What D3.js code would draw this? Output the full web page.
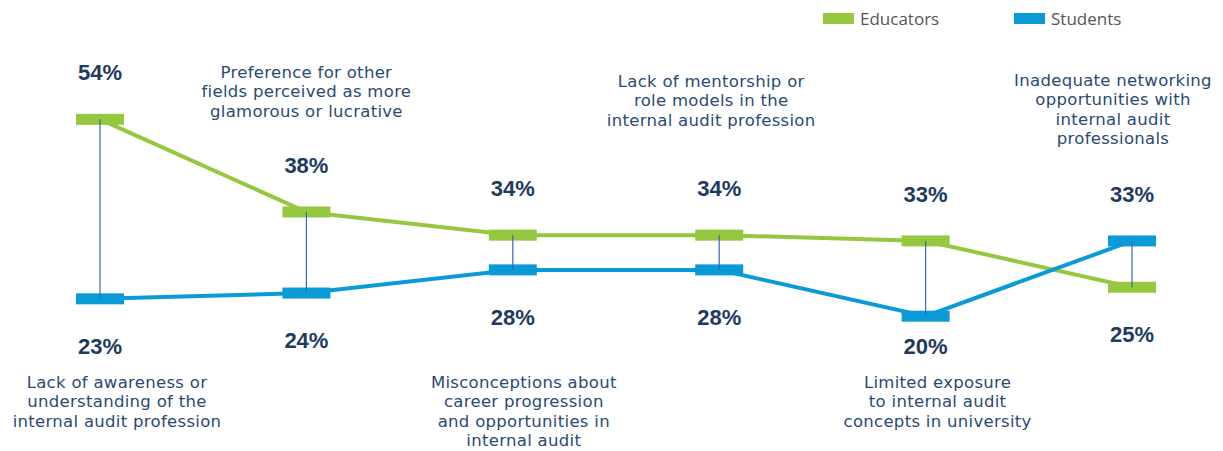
<!DOCTYPE html>
<html><head><meta charset="utf-8">
<script src="https://cdn.jsdelivr.net/npm/d3@7"></script>
<style>html,body{margin:0;padding:0;background:#fff;}svg{display:block;}</style>
</head><body><svg id="chart" width="1223" height="451"></svg>
<script>
const categories = [
  "Lack of awareness or\nunderstanding of the\ninternal audit profession",
  "Preference for other\nfields perceived as more\nglamorous or lucrative",
  "Misconceptions about\ncareer progression\nand opportunities in\ninternal audit",
  "Lack of mentorship or\nrole models in the\ninternal audit profession",
  "Limited exposure\nto internal audit\nconcepts in university",
  "Inadequate networking\nopportunities with\ninternal audit\nprofessionals"
];
const educators = [54, 38, 34, 34, 33, 25];
const students  = [23, 24, 28, 28, 20, 33];
const seriesNames = ["Educators", "Students"];

// layout (not data)
const colors = {Educators: "#95c83e", Students: "#0a9bd6"};
const labelSide = ["bottom","top","bottom","top","bottom","top"];
const labelDx = [17, 0, 11, -8, 12, -19];
const topFirstBaseline = [0, 78, 0, 87, 0, 86];
const bottomFirstBaseline = 388;
const lineH = 19.3;

const svg = d3.select("#chart");
const x = d3.scalePoint().domain(d3.range(categories.length)).range([100, 1132]);
const y = d3.scaleLinear().domain([0, 60]).range([432, 84.6]);

const line = d3.line().x((d,i)=>x(i)).y(d=>y(d));
[["Educators", educators], ["Students", students]].forEach(([name, vals]) => {
  svg.append("path").datum(vals).attr("d", line)
    .attr("fill","none").attr("stroke", colors[name]).attr("stroke-width", 4);
});
[["Educators", educators], ["Students", students]].forEach(([name, vals]) => {
  svg.append("g").selectAll("rect").data(vals).join("rect")
    .attr("x", (d,i)=>x(i)-24).attr("y", d=>y(d)-5.5)
    .attr("width", 48).attr("height", 11).attr("fill", colors[name]);
});
svg.append("g").selectAll("line").data(categories).join("line")
  .attr("x1", (d,i)=>x(i)).attr("x2", (d,i)=>x(i))
  .attr("y1", (d,i)=>y(educators[i])).attr("y2", (d,i)=>y(students[i]))
  .attr("stroke", "#3468b8").attr("stroke-width", 1.2);

// value labels
const valG = svg.append("g").attr("font-family","'Liberation Sans', Arial, sans-serif")
  .attr("font-weight","bold").attr("font-size", 22).attr("fill","#1d3a60").attr("text-anchor","middle");
categories.forEach((c,i)=>{
  const hi = Math.max(educators[i], students[i]);
  const lo = Math.min(educators[i], students[i]);
  valG.append("text").attr("x", x(i)).attr("y", y(hi)-39).text(hi+"%");
  valG.append("text").attr("x", x(i)).attr("y", Math.min(y(lo)+55, 354)).text(lo+"%");
});

// category labels
const catG = svg.append("g").attr("font-family","'DejaVu Sans', 'Liberation Sans', sans-serif")
  .attr("font-size", 16.5).attr("fill","#2a4a72").attr("text-anchor","middle").attr("letter-spacing", 0.3);
categories.forEach((c,i)=>{
  const lines = c.split("\n");
  const y0 = labelSide[i]==="top" ? topFirstBaseline[i] : bottomFirstBaseline;
  lines.forEach((l,k)=>{
    catG.append("text").attr("x", x(i)+labelDx[i]).attr("y", y0 + k*lineH).text(l);
  });
});

// legend
const leg = svg.append("g").attr("font-family","'Open Sans', 'Liberation Sans', sans-serif").attr("font-size", 17).attr("fill","#555");
const legX = [823, 1014];
seriesNames.forEach((n,i)=>{
  leg.append("rect").attr("x", legX[i]).attr("y", 13).attr("width", 31).attr("height", 11).attr("fill", colors[n]);
  leg.append("text").attr("x", legX[i]+37).attr("y", 24.5).text(n);
});
</script></body></html>
